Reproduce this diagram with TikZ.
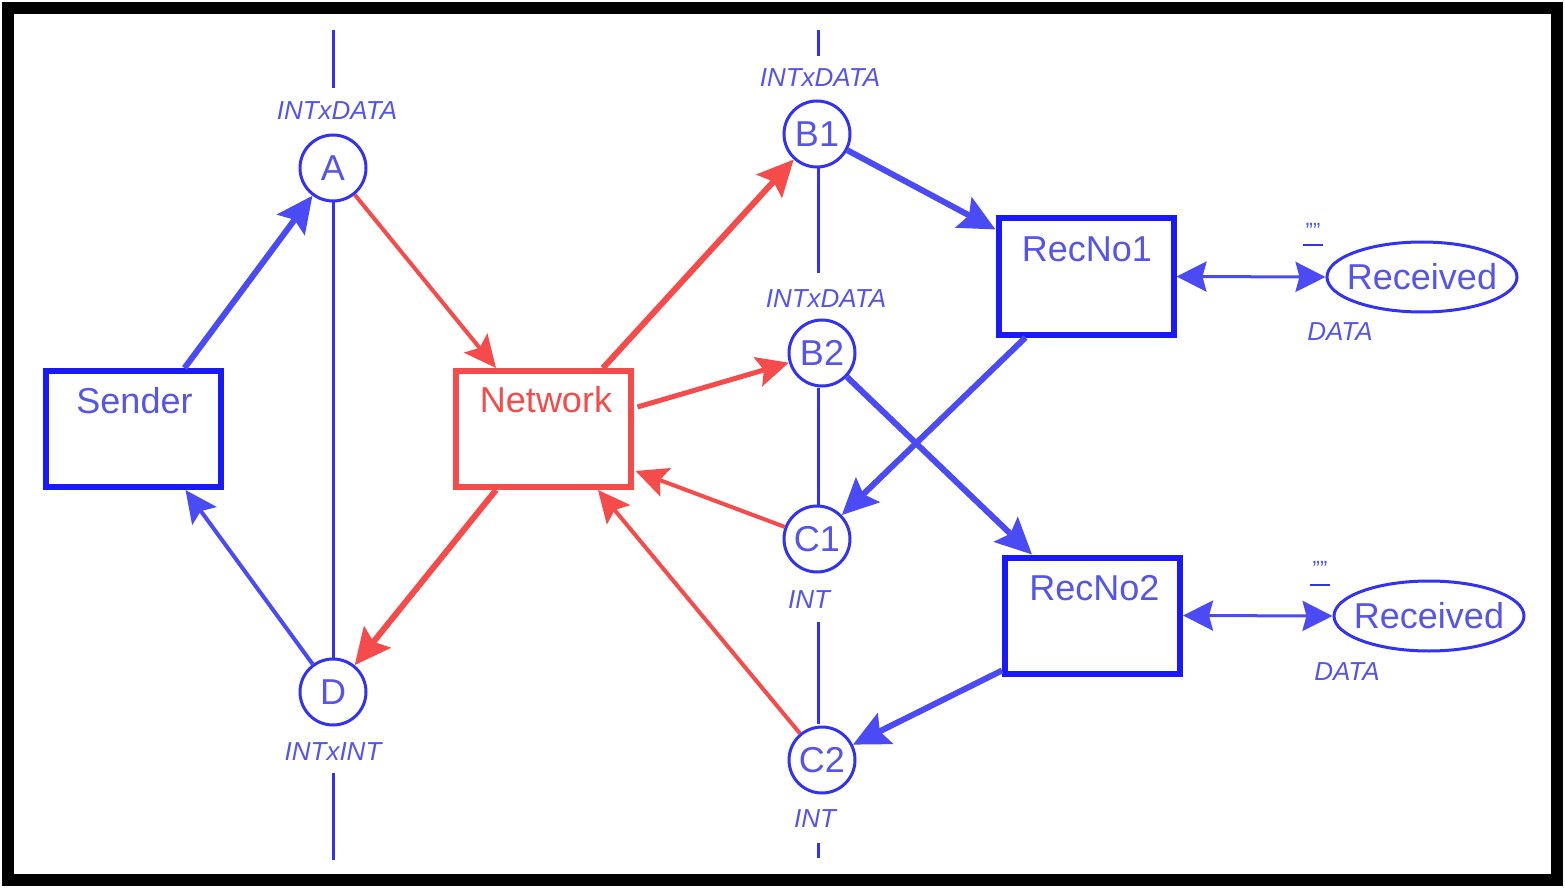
\documentclass[tikz,border=0pt]{standalone}
\usepackage{fontspec}
\setmainfont{Liberation Sans}
\usetikzlibrary{arrows.meta,calc,shapes.geometric}
\definecolor{boxblue}{RGB}{25,25,250}
\definecolor{arrblue}{RGB}{75,75,245}
\definecolor{txtblue}{RGB}{85,85,235}
\definecolor{netred}{RGB}{245,75,75}
\definecolor{placeblue}{RGB}{50,50,245}
\begin{document}
\begin{tikzpicture}[x=0.5pt,y=-0.5pt,
  trans/.style={draw=boxblue, line width=3pt, minimum width=87.5pt, minimum height=58pt, inner sep=0pt},
  transred/.style={trans, draw=netred},
  boxtext/.style={anchor=base, text=txtblue, font=\fontsize{18pt}{20pt}\selectfont, inner sep=0pt},
  place/.style={circle, draw=placeblue, line width=1.5pt, minimum size=33pt, inner sep=0pt, text=txtblue, font=\fontsize{18pt}{20pt}\selectfont},
  oval/.style={ellipse, draw=placeblue, line width=1.5pt, minimum width=95pt, minimum height=35pt, inner xsep=-4pt, inner ysep=0pt, text=txtblue, font=\fontsize{18pt}{20pt}\selectfont},
  typelab/.style={anchor=base, text=txtblue, font=\fontsize{13pt}{15pt}\selectfont\itshape, inner sep=0pt},
  marklab/.style={anchor=north, text=txtblue, font=\fontsize{11pt}{12pt}\selectfont, inner sep=0pt},
  vline/.style={draw=placeblue, line width=1.5pt},
  barr/.style={draw=arrblue, line width=3pt, -{Stealth[length=18pt,width=17pt,inset=3pt]}, color=arrblue},
  barrthin/.style={draw=arrblue, line width=2pt, -{Stealth[length=16pt,width=15pt,inset=3pt]}, color=arrblue},
  rarr/.style={draw=netred, line width=3pt, -{Stealth[length=18pt,width=17pt,inset=3pt]}, color=netred},
  rarrmid/.style={draw=netred, line width=2.5pt, -{Stealth[length=16pt,width=15pt,inset=3pt]}, color=netred},
  rarrthin/.style={draw=netred, line width=2pt, -{Stealth[length=16pt,width=15pt,inset=3pt]}, color=netred},
  dbl/.style={draw=arrblue, line width=1.5pt, {Stealth[length=15pt,width=15pt,inset=2pt]}-{Stealth[length=15pt,width=15pt,inset=2pt]}, color=arrblue}
]
\useasboundingbox (0,0) rectangle (1565,888);
\fill[white] (0,0) rectangle (1565,888);

% transitions
\node[trans] (Sender) at (133.5,429) {};
\node[boxtext] (SenderT) at ($(Sender.north)+(1,45)$) {Sender};
\node[transred] (Network) at (543,429) {};
\node[boxtext, text=netred] (NetworkT) at ($(Network.north)+(3,44)$) {Network};
\node[trans] (RecNo1) at (1086,276.5) {};
\node[boxtext] (RecNo1T) at ($(RecNo1.north)+(1,46)$) {RecNo1};
\node[trans] (RecNo2) at (1092.5,615.5) {};
\node[boxtext] (RecNo2T) at ($(RecNo2.north)+(2,46)$) {RecNo2};

% places
\node[place] (A) at (333,168) {A};
\node[place] (B1) at (817,134) {B1};
\node[place] (B2) at (822,353) {B2};
\node[place] (C1) at (817,539) {C1};
\node[place] (C2) at (822,760) {C2};
\node[place] (D) at (333,692) {D};
\node[oval] (Received1) at (1422,277) {Received};
\node[oval] (Received2) at (1429,616) {Received};

% type labels
\node[typelab] (Alab) at (337,120) {INTxDATA};
\node[typelab] (B1lab) at (820,87) {INTxDATA};
\node[typelab] (B2lab) at (826,307) {INTxDATA};
\node[typelab] (C1lab) at (809,608) {INT};
\node[typelab] (C2lab) at (815,827) {INT};
\node[typelab] (Dlab) at (333,760) {INTxINT};
\node[typelab] (R1lab) at (1340,340) {DATA};
\node[typelab] (R2lab) at (1347,680) {DATA};
\node[marklab] (R1mark) at (1313,223) {""};
\node[marklab] (R2mark) at (1320,561) {""};
\draw[vline, line width=1pt] (1303,245) -- (1323,245);
\draw[vline, line width=1pt] (1310,585) -- (1330,585);

% vertical rules
\draw[vline] (333,30) -- (333,88);
\draw[vline] (A) -- (D);
\draw[vline] (333,773) -- (333,860);
\draw[vline] (818,30) -- (818,56);
\draw[vline] (818,168) -- (818,273);
\draw[vline] (818,388) -- (818,505);
\draw[vline] (818,622) -- (818,724);
\draw[vline] (818,843) -- (818,858);

% arcs
\draw[barr] ($(Sender.north)+(51,0)$) -- (A);
\draw[barrthin] (D) -- ($(Sender.south)+(52,0)$);
\draw[rarrthin] (A) -- ($(Network.north)+(-47,0)$);
\draw[rarr] ($(Network.north)+(60,0)$) -- (B1);
\draw[rarrmid] ($(Network.east)+(4,-22)$) -- (B2);
\draw[rarrthin] (C1) -- ($(Network.east)+(2,42)$);
\draw[rarrthin] (C2) -- ($(Network.south)+(55,0)$);
\draw[rarr] ($(Network.south)+(-47,0)$) -- (D);
\draw[barr] (B1) -- ($(RecNo1.north west)+(0,14)$);
\draw[barr] ($(RecNo1.south west)+(30,0)$) -- (C1);
\draw[barr] (B2) -- ($(RecNo2.north west)+(30,0)$);
\draw[barr] ($(RecNo2.south west)+(0,-6)$) -- (C2);
\draw[dbl] (RecNo1.east) -- (Received1.west);
\draw[dbl] (RecNo2.east) -- (Received2.west);

% frame
\draw[black, line width=6pt] (8,8) rectangle (1557,880);
\end{tikzpicture}
\end{document}
